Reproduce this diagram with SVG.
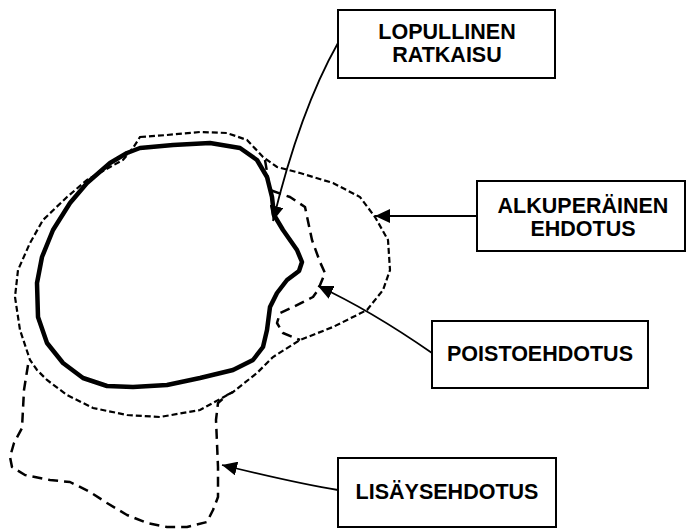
<svg xmlns="http://www.w3.org/2000/svg" width="687" height="529" viewBox="0 0 687 529">
<defs>
<style>
.box{fill:#fff;stroke:#000;stroke-width:2}
.lbl{font-family:"Liberation Sans",Arial,sans-serif;font-weight:bold;font-size:21.5px;fill:#000;text-anchor:middle}
.con{fill:none;stroke:#000;stroke-width:1.8}
.final{fill:none;stroke:#000;stroke-width:4.5;stroke-linejoin:round}
.orig{fill:none;stroke:#000;stroke-width:2.2;stroke-dasharray:6 3}
.long{fill:none;stroke:#000;stroke-width:2.5;stroke-dasharray:10 6;stroke-linejoin:round}
</style>
<marker id="ah" markerUnits="userSpaceOnUse" markerWidth="16" markerHeight="14" refX="15" refY="7" orient="auto">
<path d="M0,0 L15,7 L0,14 z" fill="#000"/>
</marker>
</defs>
<g id="shapes">
<path id="final-solution" class="final" d="M140,148 L173,145 L210,143 L240,148 L257,160 L267,177 L272,197 L274,215 L283,230 L297,250 L302,262 L299,271 L287,280 L277,293 L270,307 L267,330 L263,347 L253,360 L233,370 L200,378 L167,385 L133,387 L107,386 L83,378 L63,363 L47,343 L38,317 L37,283 L42,257 L53,230 L70,203 L87,183 L110,163 L127,153 Z"/>
<path id="original-proposal" class="orig" d="M140,137 L167,135 L200,132 L227,133 L247,140 L263,157 L277,167 L300,173 L333,183 L360,197 L375,217 L388,240 L390,270 L383,290 L367,310 L333,327 L300,340 L273,357 L257,373 L233,392 L200,410 L160,417 L127,415 L93,408 L67,395 L47,380 L37,370 L30,360 L20,330 L15,297 L18,270 L30,243 L43,220 L67,197 L87,180 L110,167 L123,160 L133,148 Z"/>
<path id="removal-proposal" class="long" d="M265,160 L270,190 L290,197 L305,207 L312,240 L320,262 L325,273 L318,290 L313,297 L293,307 L280,313 L277,323 L283,333 L300,340"/>
<path id="addition-proposal" class="long" d="M28,365 L24,390 L22,428 L14,443 L10,457 L12,467 L25,475 L50,480 L70,482 L90,492 L107,503 L127,515 L147,523 L167,527 L187,527 L207,522 L213,510 L218,497 L218,467 L217,443 L216,420 L218,403 L227,395 L233,392"/>
</g>
<g id="connectors">
<path class="con" d="M338,43 Q300,110 273,221" marker-end="url(#ah)"/>
<path class="con" d="M477,216 L375,216" marker-end="url(#ah)"/>
<path class="con" d="M432,353 Q370,310 318,286" marker-end="url(#ah)"/>
<path class="con" d="M338,490 Q300,484 222,465" marker-end="url(#ah)"/>
</g>
<g id="lopullinen">
<rect class="box" x="338" y="10" width="217" height="68"/>
<text class="lbl" x="447" y="39">LOPULLINEN</text>
<text class="lbl" x="447" y="62">RATKAISU</text>
</g>
<g id="alkuperainen">
<rect class="box" x="477" y="181" width="208" height="70"/>
<text class="lbl" x="583" y="213">ALKUPERÄINEN</text>
<text class="lbl" x="583" y="236">EHDOTUS</text>
</g>
<g id="poisto">
<rect class="box" x="432" y="321" width="216" height="67"/>
<text class="lbl" x="540" y="361">POISTOEHDOTUS</text>
</g>
<g id="lisays">
<rect class="box" x="338" y="458" width="218" height="69"/>
<text class="lbl" x="447" y="499">LISÄYSEHDOTUS</text>
</g>
</svg>
